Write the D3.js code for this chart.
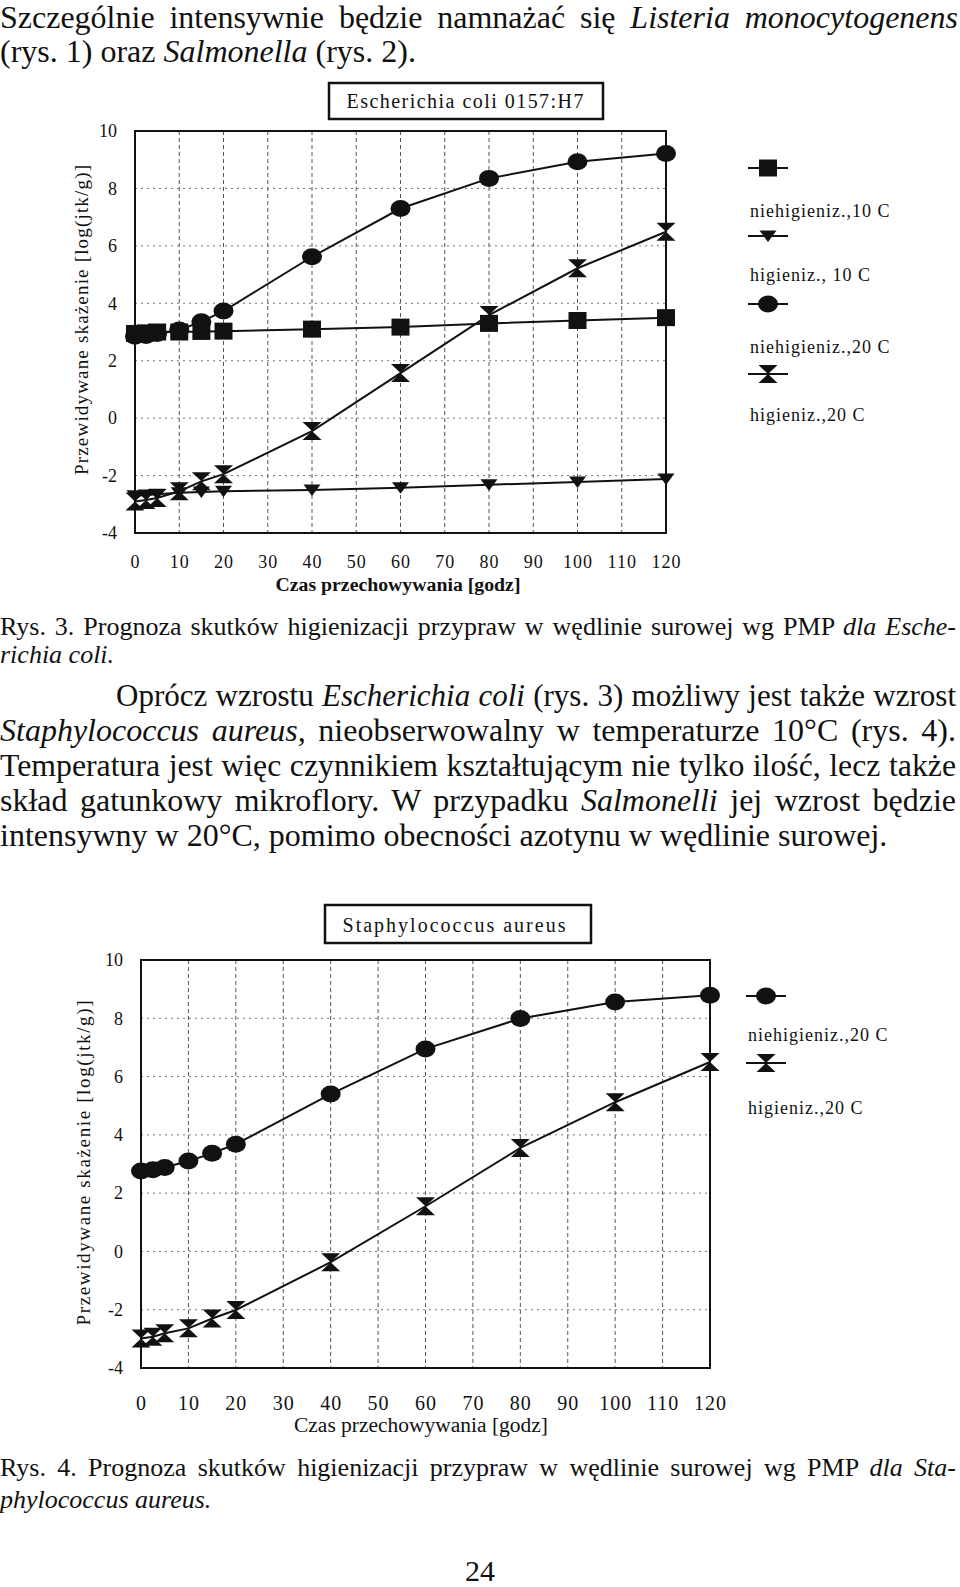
<!DOCTYPE html>
<html><head><meta charset="utf-8">
<script src="https://cdn.jsdelivr.net/npm/d3@7/dist/d3.min.js"></script>
<style>
body{margin:0;background:#fff}
svg{display:block}
text{font-family:"Liberation Serif","Times New Roman",serif;fill:#111;white-space:pre}
</style>
</head><body>
<svg id="page" width="960" height="1587"></svg>
<script>
// ---------- data ----------
const hours = [0, 2.5, 5, 10, 15, 20, 40, 60, 80, 100, 120];
const xTicks = [0, 10, 20, 30, 40, 50, 60, 70, 80, 90, 100, 110, 120];
const yTicks = [-4, -2, 0, 2, 4, 6, 8, 10];

// Rys. 3 – Escherichia coli 0157:H7
const ecoliNiehig10 = [2.95, 2.97, 3.0, 3.0, 3.02, 3.03, 3.1, 3.17, 3.3, 3.4, 3.5];
const ecoliHig10    = [-2.7, -2.68, -2.65, -2.6, -2.57, -2.55, -2.5, -2.42, -2.32, -2.22, -2.12];
const ecoliNiehig20 = [2.85, 2.88, 2.95, 3.07, 3.36, 3.73, 5.62, 7.3, 8.35, 8.93, 9.22];
const ecoliHig20    = [-2.9, -2.85, -2.78, -2.55, -2.2, -1.95, -0.45, 1.57, 3.59, 5.22, 6.49];

// Rys. 4 – Staphylococcus aureus
const staphNiehig20 = [2.76, 2.8, 2.88, 3.1, 3.37, 3.68, 5.4, 6.95, 7.99, 8.56, 8.79];
const staphHig20    = [-2.99, -2.93, -2.81, -2.64, -2.3, -2.01, -0.37, 1.55, 3.55, 5.12, 6.5];

const ecoliNames = ["niehigieniz.,10 C", "higieniz., 10 C", "niehigieniz.,20 C", "higieniz.,20 C"];
const staphNames = ["niehigieniz.,20 C", "higieniz.,20 C"];

const yTitle = "Przewidywane skażenie [log(jtk/g)]";
const xTitle = "Czas przechowywania [godz]";

// ---------- page ----------
const svg = d3.select("#page");

const shapes = {
  square: "M-9,-8.5H9V8.5H-9Z",
  tri: "M-8.5,-5.5L8.5,-5.5L0,6Z",
  hour: "M-9.5,-9L9.5,-9L-9.5,9L9.5,9Z"
};
function marker(sel, kind) {
  if (kind === "circle") {
    sel.append("ellipse").attr("rx", 10).attr("ry", 8.5).attr("fill", "#111");
  } else {
    sel.append("path").attr("d", shapes[kind]).attr("fill", "#111");
  }
}

function drawChart(cfg) {
  const g = svg.append("g");
  const x = d3.scaleLinear().domain([0, 120]).range([cfg.left, cfg.right]);
  const y = d3.scaleLinear().domain([-4, 10]).range([cfg.bottom, cfg.top]);

  // grid
  g.selectAll(".vg").data(xTicks.filter(t => t > 0 && t < 120)).join("line")
    .attr("x1", d => x(d)).attr("x2", d => x(d)).attr("y1", y(10)).attr("y2", y(-4))
    .attr("stroke", "#555").attr("stroke-width", 1).attr("stroke-dasharray", "4,3");
  g.selectAll(".hg").data(yTicks.filter(t => t > -4 && t < 10)).join("line")
    .attr("y1", d => y(d)).attr("y2", d => y(d)).attr("x1", x(0)).attr("x2", x(120))
    .attr("stroke", "#777").attr("stroke-width", 1).attr("stroke-dasharray", "2,4");

  // frame
  g.append("rect").attr("x", x(0)).attr("y", y(10))
    .attr("width", x(120) - x(0)).attr("height", y(-4) - y(10))
    .attr("fill", "none").attr("stroke", "#111").attr("stroke-width", 2);

  // axes (labels only)
  const ax = g.append("g").attr("transform", `translate(${cfg.left},0)`)
    .call(d3.axisLeft(y).tickValues(yTicks).tickSize(0).tickPadding(cfg.left - cfg.yLabelRight).tickFormat(d => String(d)));
  ax.select(".domain").remove();
  ax.selectAll("text").attr("font-size", 18).attr("font-family", null).attr("fill", "#111");

  const bx = g.append("g").attr("transform", `translate(0,${cfg.bottom})`)
    .call(d3.axisBottom(x).tickValues(xTicks).tickSize(0).tickPadding(cfg.xLabelBase - cfg.bottom - 0.71 * cfg.xFont));
  bx.select(".domain").remove();
  bx.selectAll("text").attr("font-size", cfg.xFont).attr("font-family", null).attr("fill", "#111")
    .attr("letter-spacing", 1);

  // axis titles
  g.append("text").attr("x", cfg.xTitleX).attr("y", cfg.xTitleY).attr("text-anchor", "middle")
    .attr("font-size", cfg.xTitleFont).attr("font-weight", cfg.xTitleBold ? "bold" : null)
    .attr("textLength", cfg.xTitleLen).attr("lengthAdjust", "spacingAndGlyphs").text(xTitle);
  g.append("text").attr("transform", `translate(${cfg.yTitleX},${cfg.yTitleY}) rotate(-90)`)
    .attr("text-anchor", "middle").attr("font-size", 19)
    .attr("textLength", cfg.yTitleLen).attr("lengthAdjust", "spacing").text(yTitle);

  // title box
  g.append("rect").attr("x", cfg.box[0]).attr("y", cfg.box[1]).attr("width", cfg.box[2] - cfg.box[0])
    .attr("height", cfg.box[3] - cfg.box[1]).attr("fill", "#fff").attr("stroke", "#111").attr("stroke-width", 2.5);
  g.append("text").attr("x", cfg.titleX).attr("y", cfg.titleY).attr("text-anchor", "middle")
    .attr("font-size", 20).attr("textLength", cfg.titleLen).attr("lengthAdjust", "spacing").text(cfg.title);

  // series
  const line = d3.line().x(d => x(d[0])).y(d => y(d[1]));
  cfg.series.forEach(s => {
    const pts = hours.map((h, i) => [h, s.values[i]]);
    g.append("path").attr("d", line(pts)).attr("fill", "none").attr("stroke", "#111").attr("stroke-width", 2);
    const m = g.selectAll(null).data(pts).join("g").attr("transform", d => `translate(${x(d[0])},${y(d[1])})`);
    marker(m, s.shape);
  });

  // legend
  cfg.series.forEach((s, i) => {
    const my = cfg.legendMarkerY[i];
    g.append("line").attr("x1", cfg.legendX).attr("x2", cfg.legendX + 40).attr("y1", my).attr("y2", my)
      .attr("stroke", "#111").attr("stroke-width", 2);
    const lm = g.append("g").attr("transform", `translate(${cfg.legendX + 20},${my})`);
    marker(lm, s.shape);
    g.append("text").attr("x", cfg.legendX + 2).attr("y", cfg.legendTextY[i])
      .attr("font-size", 18).attr("letter-spacing", 1).attr("fill", "#222").text(s.name);
  });
}

drawChart({
  left: 135, right: 666, top: 131, bottom: 533,
  yLabelRight: 117, xLabelBase: 568, xFont: 18,
  xTitleX: 398, xTitleY: 591, xTitleFont: 18, xTitleBold: true, xTitleLen: 245,
  yTitleX: 88, yTitleY: 320, yTitleLen: 310,
  box: [329, 83, 603, 119], titleX: 465, titleY: 108, titleLen: 237,
  title: "Escherichia coli 0157:H7",
  legendX: 748, legendMarkerY: [168, 236, 304, 374], legendTextY: [217, 281, 353, 421],
  series: [
    {name: ecoliNames[0], values: ecoliNiehig10, shape: "square"},
    {name: ecoliNames[1], values: ecoliHig10, shape: "tri"},
    {name: ecoliNames[2], values: ecoliNiehig20, shape: "circle"},
    {name: ecoliNames[3], values: ecoliHig20, shape: "hour"}
  ]
});

drawChart({
  left: 141, right: 710, top: 960, bottom: 1368,
  yLabelRight: 123, xLabelBase: 1410, xFont: 20,
  xTitleX: 421, xTitleY: 1432, xTitleFont: 20, xTitleBold: false, xTitleLen: 254,
  yTitleX: 90, yTitleY: 1163, yTitleLen: 325,
  box: [325, 905, 591, 943], titleX: 454, titleY: 932, titleLen: 223,
  title: "Staphylococcus aureus",
  legendX: 746, legendMarkerY: [996, 1063], legendTextY: [1041, 1114],
  series: [
    {name: staphNames[0], values: staphNiehig20, shape: "circle"},
    {name: staphNames[1], values: staphHig20, shape: "hour"}
  ]
});

// ---------- body text ----------
function textLine(segs, x0, yb, size, justifyTo) {
  const t = svg.append("text").attr("x", x0).attr("y", yb).attr("font-size", size);
  segs.forEach(s => t.append("tspan").attr("font-style", s[1] ? "italic" : null).text(s[0]));
  if (justifyTo) {
    let w = t.node().getComputedTextLength();
    if (w > justifyTo - x0) {
      t.attr("font-size", size * (justifyTo - x0) / w * 0.995);
      w = t.node().getComputedTextLength();
    }
    const n = segs.map(s => s[0]).join("").split(" ").length - 1;
    if (n > 0 && justifyTo - x0 > w) t.attr("word-spacing", (justifyTo - x0 - w) / n);
  }
}

textLine([["Szczególnie intensywnie będzie namnażać się "], ["Listeria monocytogenens", 1]], 0, 28, 32, 958);
textLine([["(rys. 1) oraz "], ["Salmonella", 1], [" (rys. 2)."]], 0, 62, 32, null);

textLine([["Rys. 3. Prognoza skutków higienizacji przypraw w wędlinie surowej wg PMP "], ["dla Esche-", 1]], 0, 635, 26, 956);
textLine([["richia coli.", 1]], 0, 663, 26, null);

textLine([["Oprócz wzrostu "], ["Escherichia coli", 1], [" (rys. 3) możliwy jest także wzrost"]], 116, 706, 32, 956);
textLine([["Staphylococcus aureus,", 1], [" nieobserwowalny w temperaturze 10°C (rys. 4)."]], 0, 741, 32, 956);
textLine([["Temperatura jest więc czynnikiem kształtującym nie tylko ilość, lecz także"]], 0, 776, 32, 956);
textLine([["skład gatunkowy mikroflory. W przypadku "], ["Salmonelli", 1], [" jej wzrost będzie"]], 0, 811, 32, 956);
textLine([["intensywny w 20°C, pomimo obecności azotynu w wędlinie surowej."]], 0, 846, 32, null);

textLine([["Rys. 4. Prognoza skutków higienizacji przypraw w wędlinie surowej wg PMP "], ["dla Sta-", 1]], 0, 1476, 26, 956);
textLine([["phylococcus aureus.", 1]], 0, 1508, 26, null);

svg.append("text").attr("x", 480).attr("y", 1581).attr("text-anchor", "middle").attr("font-size", 30).text("24");
</script>
</body></html>
